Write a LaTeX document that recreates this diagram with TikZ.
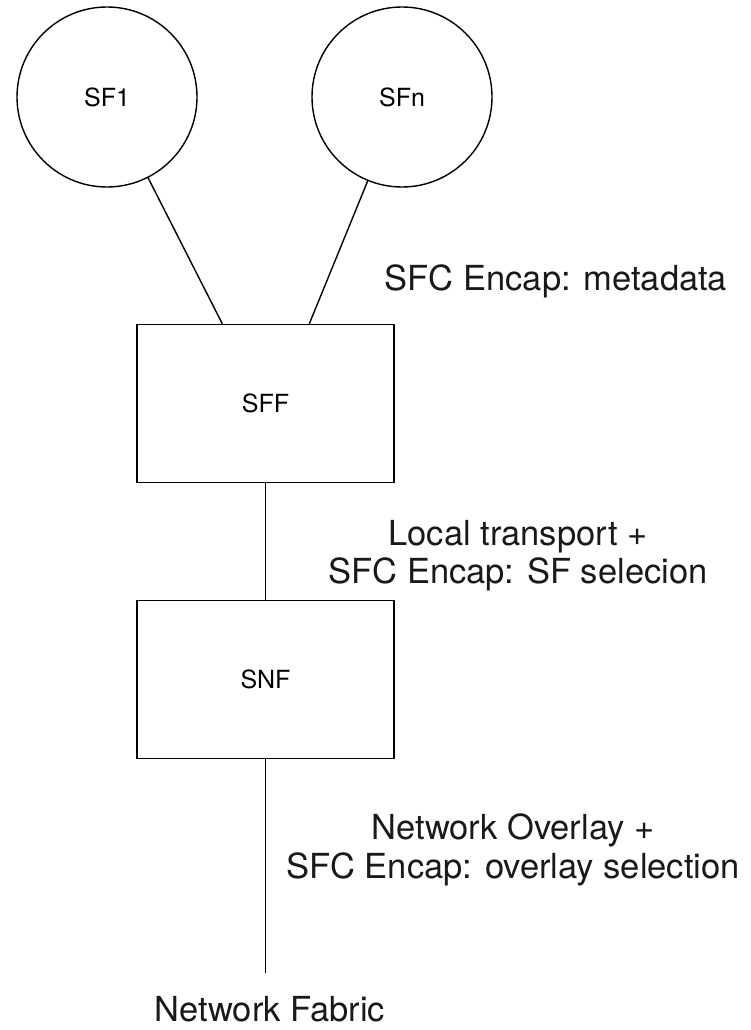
\documentclass[tikz,border=0pt]{standalone}
\usepackage{fontspec}
\setmainfont{TeX Gyre Heros}
\begin{document}
\begin{tikzpicture}[x=1pt,y=-1pt,
  line width=1.4pt,
  fn/.style={draw,circle,minimum size=180pt,inner sep=0pt,font=\fontsize{25}{28}\selectfont},
  box/.style={draw,rectangle,minimum width=257pt,minimum height=158pt,inner sep=0pt,font=\fontsize{25}{28}\selectfont},
  lbl/.style={anchor=base,inner sep=0pt,text=black!90,font=\fontsize{34.5}{39}\selectfont},
  conn/.style={draw,line width=1.4pt}]
\useasboundingbox (0,0) rectangle (750,1030);
\node[fn] (sf1) at (107,97) {SF1};
\node[fn] (sfn) at (402,97) {SFn};
\node[box] (sff) at (265.5,403.5) {SFF};
\node[box] (snf) at (265.5,679.5) {SNF};
\coordinate (sffa) at ([xshift=86pt]sff.north west);
\coordinate (sffb) at ([xshift=173pt]sff.north west);
\coordinate (fab) at (265.5,973);
\draw[conn] (sf1) -- (sffa);
\draw[conn] (sfn) -- (sffb);
\draw[conn] (sff.south) -- (snf.north);
\draw[conn] (snf.south) -- (fab);
\node[lbl] (l1) at (556,290) {SFC Encap: metadata};
\node[lbl] (l2a) at (518,545) {Local transport +};
\node[lbl] (l2b) at (518,583) {SFC Encap: SF selecion};
\node[lbl] (l3a) at (513,839) {Network Overlay +};
\node[lbl] (l3b) at (513,878) {SFC Encap: overlay selection};
\node[lbl] (l4) at (270,1021) {Network Fabric};
\end{tikzpicture}
\end{document}
